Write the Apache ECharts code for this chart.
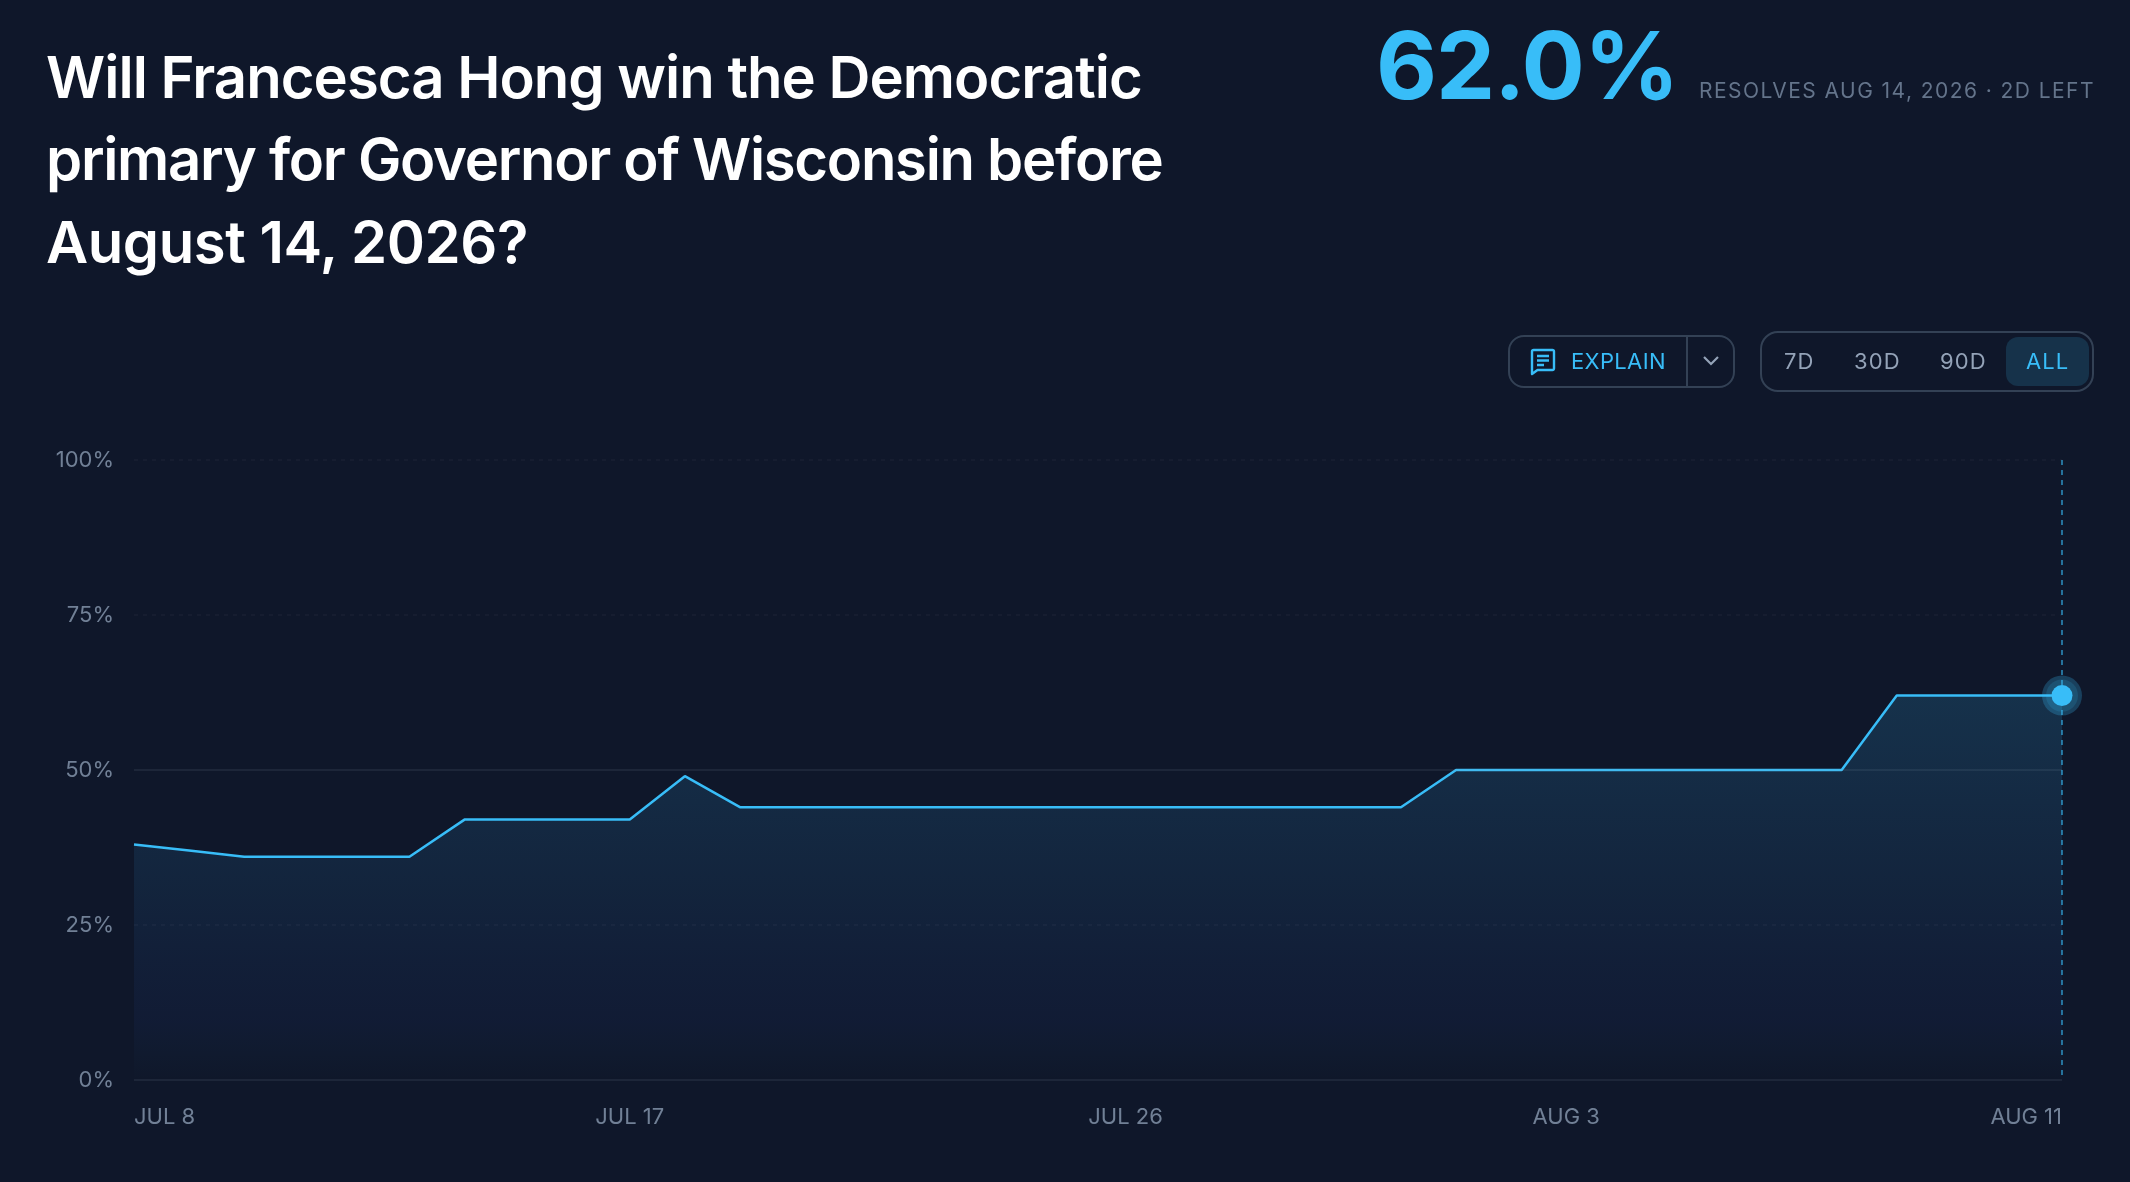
<!DOCTYPE html>
<html><head><meta charset="utf-8">
<script src="https://cdn.jsdelivr.net/npm/echarts@6/dist/echarts.min.js"></script>
<style>
html,body{margin:0;padding:0;background:#0f172a;width:2130px;height:1182px;overflow:hidden;font-family:Inter,sans-serif}
#chart{position:absolute;left:0;top:0;width:2130px;height:1182px}
.abs{position:absolute;white-space:nowrap}
#q{left:46px;top:36px;font-size:58px;font-weight:600;line-height:82.300px;color:#fff}
#q div{white-space:pre}
#pct{left:1376px;top:6px;font-size:94px;font-weight:700;color:#38bdf8;line-height:118px;letter-spacing:-1.1px}
#res{left:1699px;top:77px;font-size:21px;color:#64748b;letter-spacing:1.44px;line-height:28px}
.box{position:absolute;border:2px solid #334155;box-sizing:border-box}
.t{position:absolute;font-size:22px;line-height:28px;letter-spacing:1.1px;color:#94a3b8}
</style></head><body>
<div id="chart"></div>
<div class="abs" id="q"></div>
<div class="abs" id="pct"></div>
<div class="abs" id="res"></div>
<div class="box" style="left:1508px;top:335px;width:227px;height:53px;border-radius:16px"></div>
<div class="box" style="left:1686px;top:335px;width:2px;height:53px;border:0;background:#334155"></div>
<svg class="abs" style="left:1529px;top:348px" width="28" height="28" viewBox="0 0 28 28" fill="none" stroke="#38bdf8" stroke-width="2.4" stroke-linejoin="round"><path d="M3 3.500a1.500 1.500 0 0 1 1.500-1.500h19a1.500 1.500 0 0 1 1.500 1.500v17a1.500 1.500 0 0 1-1.500 1.500h-15l-5.500 4z"/><path d="M8 8h12M8 12.500h12M8 17h7"/></svg>
<div class="t" style="left:1571px;top:347px;color:#38bdf8;letter-spacing:.35px">EXPLAIN</div>
<svg class="abs" style="left:1701px;top:351px" width="20" height="20" viewBox="0 0 20 20" fill="none" stroke="#94a3b8" stroke-width="2.200"><path d="M3 6l7 7 7-7"/></svg>
<div class="box" style="left:1760px;top:331px;width:334px;height:61px;border-radius:18px"></div>
<div class="box" style="left:2006px;top:337px;width:83px;height:49px;border-radius:12px;background:#16324a;border:0"></div>
<div class="t" style="left:1784px;top:347px">7D</div>
<div class="t" style="left:1854px;top:347px">30D</div>
<div class="t" style="left:1940px;top:347px">90D</div>
<div class="t" style="left:2026px;top:347px;color:#38bdf8">ALL</div>
<script>
const questionLines = ["Will Francesca Hong win the Democratic","primary for Governor of Wisconsin before","August 14, 2026?"];
const questionSpacing = ["-0.96px","-1.28px","-0.42px"];
const currentLabel = "62.0%";
const resolveLabel = "RESOLVES AUG 14, 2026 · 2D LEFT";
const dates = ["JUL 8","JUL 9","JUL 10","JUL 11","JUL 12","JUL 13","JUL 14","JUL 15","JUL 16","JUL 17","JUL 18","JUL 19","JUL 20","JUL 21","JUL 22","JUL 23","JUL 24","JUL 25","JUL 26","JUL 27","JUL 28","JUL 29","JUL 30","JUL 31","AUG 1","AUG 2","AUG 3","AUG 4","AUG 5","AUG 6","AUG 7","AUG 8","AUG 9","AUG 10","AUG 10","AUG 11"];
const values = [38,37,36,36,36,36,42,42,42,42,49,44,44,44,44,44,44,44,44,44,44,44,44,44,50,50,50,50,50,50,50,50,62,62,62,62];
const labelledIdx = [0,9,18,26,35];
const solidLevels = [0,50];
const dashedLevels = [25,75,100];

const qEl = document.getElementById('q');
questionLines.forEach((s,i)=>{const d=document.createElement('div');d.textContent=s;d.style.letterSpacing=questionSpacing[i];qEl.appendChild(d);});
document.getElementById('pct').textContent = currentLabel;
document.getElementById('res').textContent = resolveLabel;

const last = dates.length-1;
const chart = echarts.init(document.getElementById('chart'),null,{renderer:'canvas'});
const labelFont = {fontFamily:'Inter',fontSize:22,color:'#718096'};
chart.setOption({
  backgroundColor:'#0f172a',
  animation:false,
  grid:{left:134,right:68,top:460,bottom:102},
  xAxis:{type:'category',boundaryGap:false,data:dates,
    axisLine:{show:false},axisTick:{show:false},splitLine:{show:false},
    axisLabel:{...labelFont,margin:26,alignMinLabel:'left',alignMaxLabel:'right',
      interval:(i)=>labelledIdx.includes(i),hideOverlap:false,showMinLabel:true,showMaxLabel:true}},
  yAxis:{type:'value',min:0,max:100,interval:25,
    axisLine:{show:false},axisTick:{show:false},splitLine:{show:false},
    axisLabel:{...labelFont,margin:20,padding:[2,0,0,0],formatter:'{value}%'}},
  series:[
   {type:'line',data:values,showSymbol:false,smooth:false,z:3,
    lineStyle:{color:'#38bdf8',width:2.5},
    areaStyle:{opacity:1,color:{type:'linear',x:0,y:0,x2:0,y2:1,colorStops:[
      {offset:0,color:'rgba(56,189,248,0.16)'},{offset:.5,color:'rgba(56,170,248,0.09)'},{offset:.85,color:'rgba(56,110,248,0.05)'},{offset:1,color:'rgba(56,189,248,0)'}]}},
    markLine:{silent:true,symbol:'none',label:{show:false},animation:false,data:[
      ...solidLevels.map(v=>({yAxis:v,lineStyle:{color:'rgba(148,163,184,0.11)',width:2,type:'solid'}})),
      ...dashedLevels.map(v=>({yAxis:v,lineStyle:{color:'rgba(148,163,184,0.05)',width:2,type:[4,5]}})),
      {xAxis:last,lineStyle:{color:'rgba(56,189,248,0.55)',width:2,type:[5,5],dashOffset:5}}
    ]}},
   {type:'scatter',data:[[last,values[last]]],symbolSize:40,z:4,itemStyle:{color:'rgba(56,189,248,0.25)',opacity:1}},
   {type:'scatter',data:[[last,values[last]]],symbolSize:32,z:5,itemStyle:{color:'rgba(56,189,248,0.14)',opacity:1}},
   {type:'scatter',data:[[last,values[last]]],symbolSize:21,z:6,itemStyle:{color:'#38bdf8',opacity:1}}
  ]
});
</script></body></html>
